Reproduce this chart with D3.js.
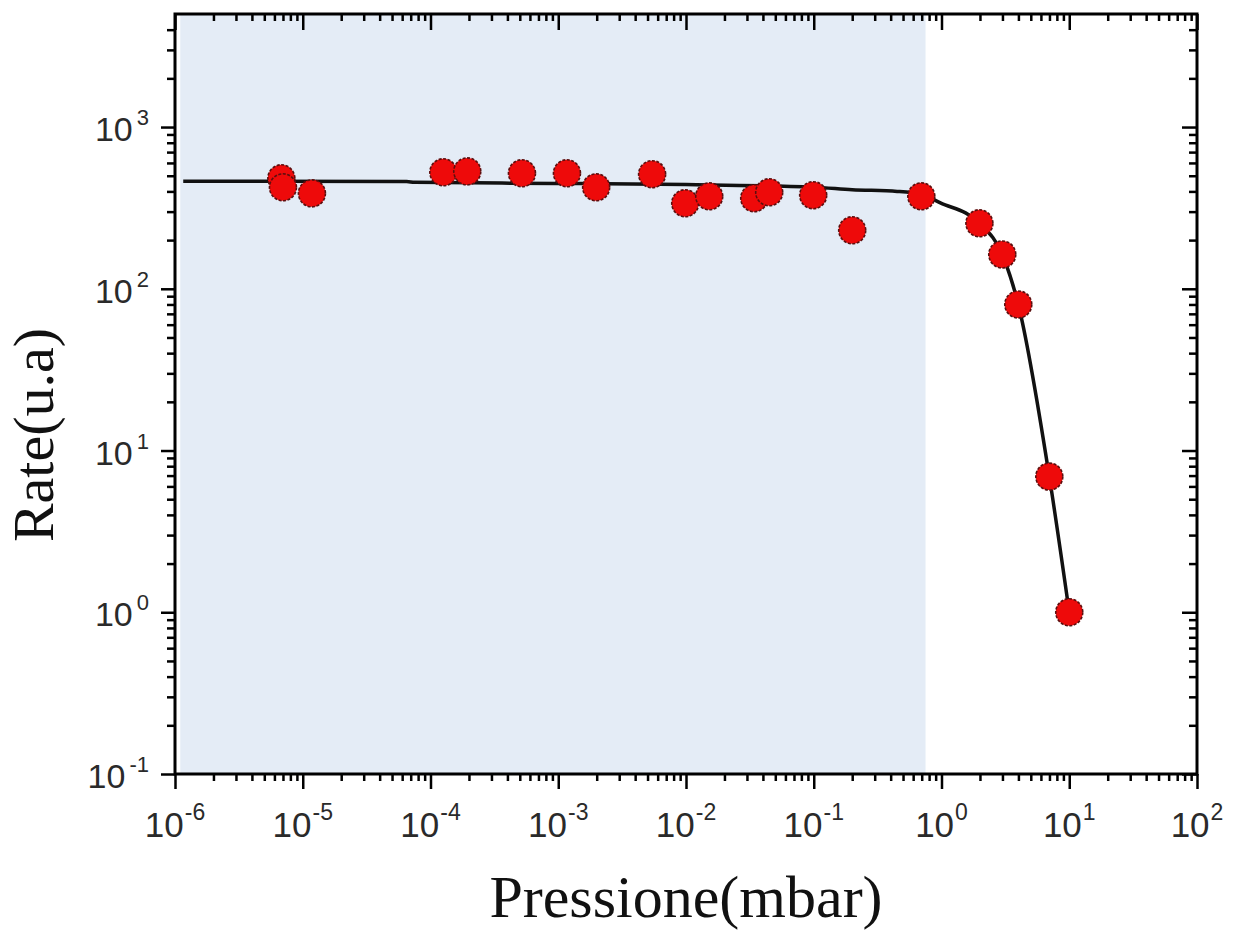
<!DOCTYPE html>
<html>
<head>
<meta charset="utf-8">
<script src="https://cdn.jsdelivr.net/npm/d3@7"></script>
<style>
  html, body { margin: 0; padding: 0; background: #fff; }
  svg { display: block; }
</style>
</head>
<body>
<svg id="chart" width="1237" height="932"></svg>
<script>
// Measured rate vs pressure
const pressure = [6.8e-6, 7.0e-6, 1.18e-5, 1.26e-4, 1.94e-4, 5.2e-4, 1.17e-3, 1.98e-3, 5.43e-3,
                  9.86e-3, 1.52e-2, 3.42e-2, 4.48e-2, 0.099, 0.2, 0.695, 1.98, 2.99, 3.99, 6.98, 10];
const rate =     [482, 424, 389, 525, 532, 518, 518, 424, 511,
                  338, 373, 363, 395, 379, 230, 373, 254, 163, 80, 6.9, 1];

// Fitted curve
const fitPressure = [1.16e-6, 6.5e-5, 7.5e-5, 1e-3, 1e-2, 0.1, 0.2, 0.45, 0.7, 0.98, 1.98, 2.99, 3.99, 6.98, 10];
const fitRate =     [462, 461, 455, 448, 441, 425, 410, 400, 382, 340, 254, 163, 80, 6.9, 1];

// Low-pressure region boundaries
const shadedRange = [1.1e-6, 0.75];

const xDomain = [1e-6, 1e2];
const yDomain = [1e-1, 5000];
const xMajor = [-6, -5, -4, -3, -2, -1, 0, 1, 2];
const yMajor = [-1, 0, 1, 2, 3];

const svg = d3.select("#chart");
const m = { left: 175, right: 1197, top: 14, bottom: 774 };

const x = d3.scaleLog().domain(xDomain).range([m.left, m.right]);
const y = d3.scaleLog().domain(yDomain).range([m.bottom, m.top]);

// shaded band
svg.append("rect")
  .attr("x", x(shadedRange[0])).attr("y", m.top)
  .attr("width", x(shadedRange[1]) - x(shadedRange[0]))
  .attr("height", m.bottom - m.top)
  .attr("fill", "#e4ecf6");

// minor tick values
function minors(domain) {
  const out = [];
  const lo = Math.floor(Math.log10(domain[0])), hi = Math.ceil(Math.log10(domain[1]));
  for (let e = lo; e < hi; e++) {
    for (let k = 2; k <= 9; k++) {
      const v = k * Math.pow(10, e);
      if (v > domain[0] && v < domain[1]) out.push(v);
    }
  }
  return out;
}
const xMinor = minors(xDomain);
const yMinor = minors(yDomain);
const xMajorV = xMajor.map(e => Math.pow(10, e));
const yMajorV = yMajor.map(e => Math.pow(10, e));

function tickAxis(axis, vals, size, g) {
  g.call(axis.tickValues(vals).tickSize(size).tickFormat(""))
   .call(s => s.select(".domain").remove())
   .selectAll("line").attr("stroke", "#000").attr("stroke-width", 2.5);
}

// bottom (outward), top (inward)
tickAxis(d3.axisBottom(x), xMajorV, 15, svg.append("g").attr("transform", `translate(0,${m.bottom})`));
tickAxis(d3.axisBottom(x), xMinor, 7, svg.append("g").attr("transform", `translate(0,${m.bottom})`));
tickAxis(d3.axisBottom(x), xMajorV, 16, svg.append("g").attr("transform", `translate(0,${m.top})`));
tickAxis(d3.axisBottom(x), xMinor, 7, svg.append("g").attr("transform", `translate(0,${m.top})`));
// left (outward), right (inward)
tickAxis(d3.axisLeft(y), yMajorV, 14, svg.append("g").attr("transform", `translate(${m.left},0)`));
tickAxis(d3.axisLeft(y), yMinor, 8, svg.append("g").attr("transform", `translate(${m.left},0)`));
tickAxis(d3.axisLeft(y), yMajorV, 15, svg.append("g").attr("transform", `translate(${m.right},0)`));
tickAxis(d3.axisLeft(y), yMinor, 8, svg.append("g").attr("transform", `translate(${m.right},0)`));

// frame
svg.append("rect")
  .attr("x", m.left).attr("y", m.top)
  .attr("width", m.right - m.left).attr("height", m.bottom - m.top)
  .attr("fill", "none").attr("stroke", "#000").attr("stroke-width", 3);

// x tick labels
const xl = svg.append("g").attr("font-family", "Liberation Sans, Arial, sans-serif").attr("fill", "#2a2a2a");
xMajor.forEach(e => {
  const t = xl.append("text").attr("x", x(Math.pow(10, e))).attr("y", 837)
    .attr("text-anchor", "middle").attr("font-size", 35);
  t.append("tspan").text("10");
  t.append("tspan").attr("font-size", 23).attr("dy", -17).attr("dx", 1).text(String(e));
});

// y tick labels
const yl = svg.append("g").attr("font-family", "Liberation Sans, Arial, sans-serif").attr("fill", "#2a2a2a");
yMajor.forEach(e => {
  const t = yl.append("text").attr("x", 149).attr("y", y(Math.pow(10, e)) + 14)
    .attr("text-anchor", "end").attr("font-size", 34);
  t.append("tspan").text("10");
  t.append("tspan").attr("font-size", 22).attr("dy", -16).attr("dx", 4).text(String(e));
});

// fitted curve
const fitData = fitPressure.map((p, i) => [p, fitRate[i]]);
svg.append("path")
  .datum(fitData)
  .attr("fill", "none").attr("stroke", "#111").attr("stroke-width", 3.5)
  .attr("d", d3.line().x(d => x(d[0])).y(d => y(d[1])).curve(d3.curveMonotoneX));

// data points
const pts = pressure.map((p, i) => [p, rate[i]]);
svg.append("g").selectAll("circle").data(pts).join("circle")
  .attr("cx", d => x(d[0])).attr("cy", d => y(d[1])).attr("r", 13.5)
  .attr("fill", "#ee0a0a").attr("stroke", "#5c0f0f").attr("stroke-width", 1.6)
  .attr("stroke-dasharray", "3,1.5");

// axis titles
svg.append("text")
  .attr("x", 686).attr("y", 917)
  .attr("text-anchor", "middle")
  .attr("font-family", "Liberation Serif, Times New Roman, serif")
  .attr("font-size", 60).attr("fill", "#111")
  .text("Pressione(mbar)");

svg.append("text")
  .attr("transform", "translate(53,435) rotate(-90)")
  .attr("text-anchor", "middle")
  .attr("font-family", "Liberation Serif, Times New Roman, serif")
  .attr("font-size", 58).attr("fill", "#111")
  .text("Rate(u.a)");
</script>
</body>
</html>
